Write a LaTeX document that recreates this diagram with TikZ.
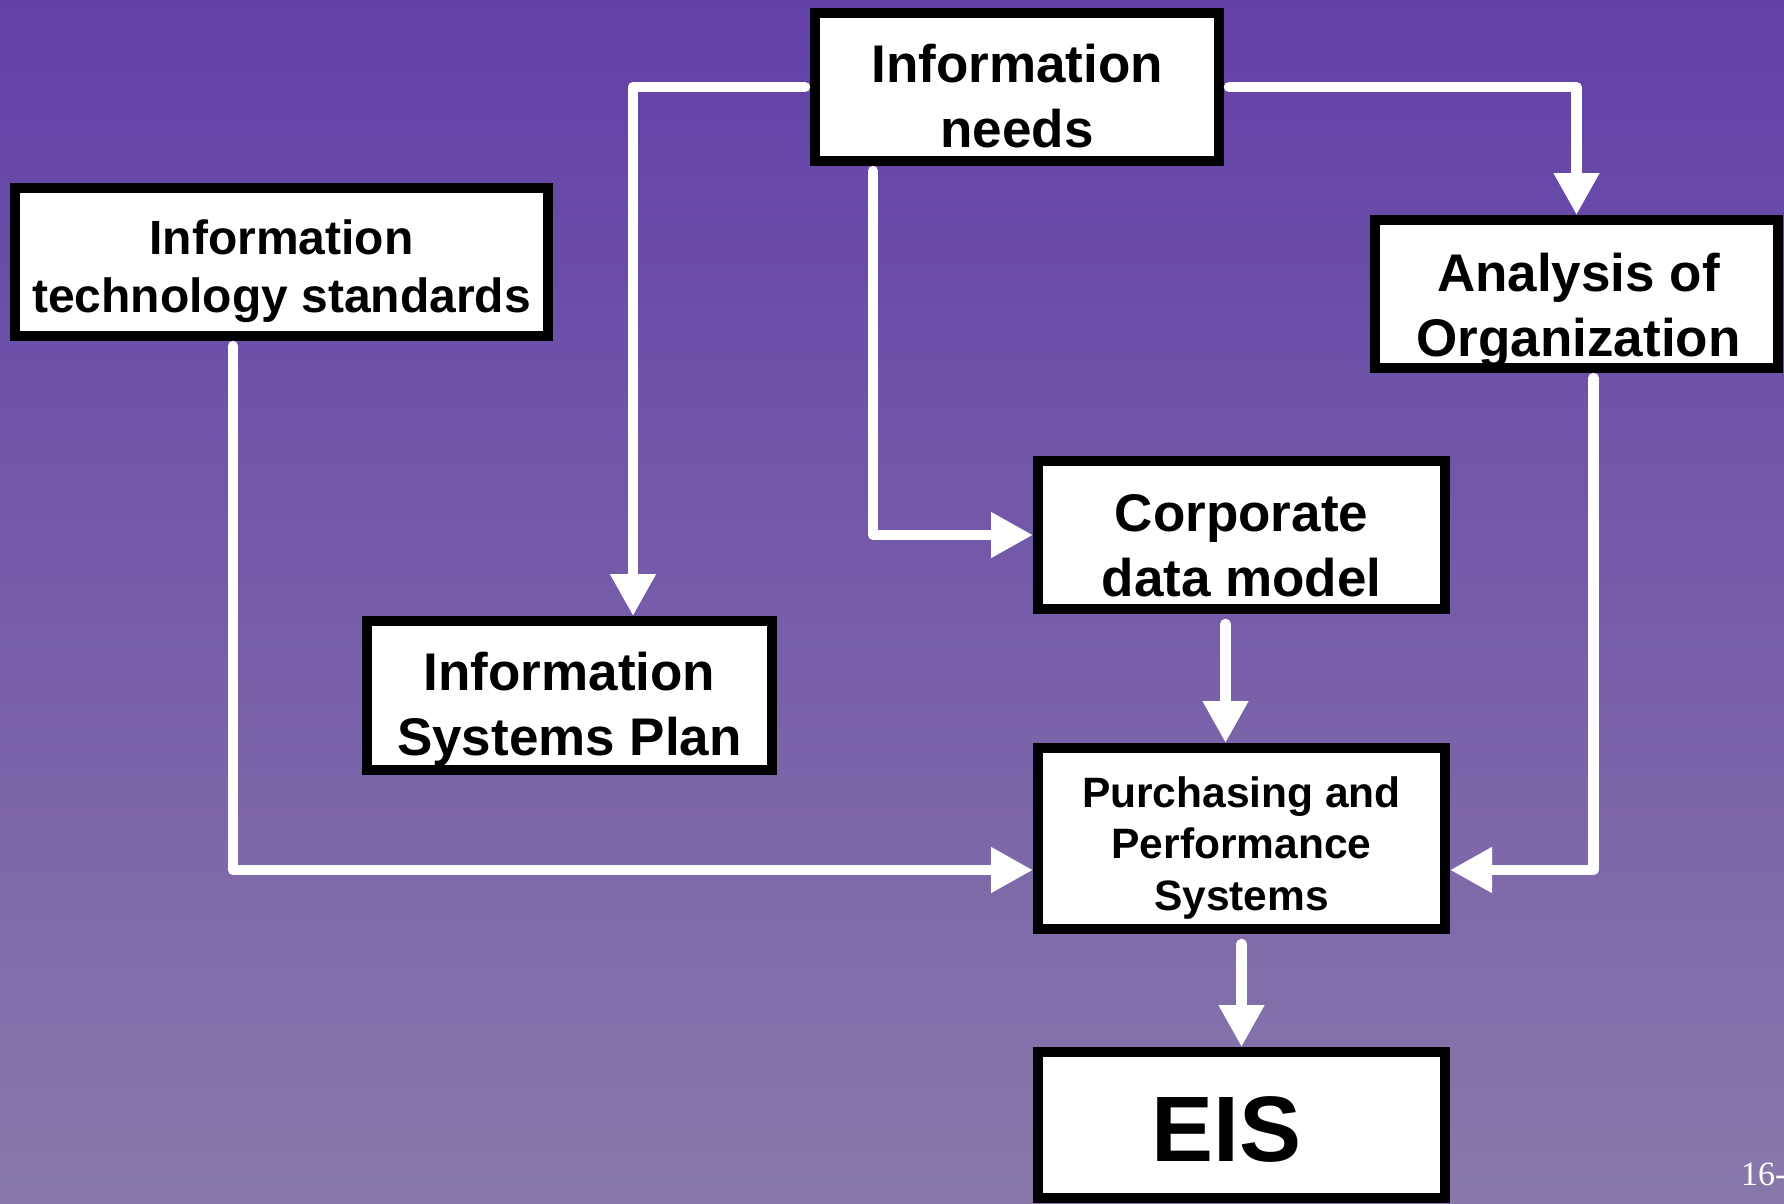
\documentclass[tikz,border=0pt]{standalone}
\usepackage{fontspec}
\setmainfont{Liberation Sans}
\newfontfamily\pagefont{Liberation Serif}
\usetikzlibrary{arrows.meta,calc}

\definecolor{bgtop}{RGB}{98,64,168}
\definecolor{bgbottom}{RGB}{136,121,170}

\tikzset{
  box/.style={draw=black, fill=white, line width=10pt, inner sep=0pt,
    minimum width=#1},
  boxtext/.style={align=center, inner sep=0pt, text depth=0pt, text=black},
  bigtext/.style={boxtext, font=\bfseries\fontsize{53}{65}\selectfont},
  midtext/.style={boxtext, font=\bfseries\fontsize{48}{58}\selectfont},
  smalltext/.style={boxtext, font=\bfseries\fontsize{42.5}{51.5}\selectfont},
  hugetext/.style={boxtext, font=\bfseries\fontsize{93}{110}\selectfont},
  conn/.style={draw=white, line width=10.5pt, line cap=round, line join=round,
    -{Triangle[length=42pt,width=43pt]}, shorten <=5pt},
}

\begin{document}
\begin{tikzpicture}[x=1pt,y=-1pt]
  % slide background
  \useasboundingbox (0,0) rectangle (1784,1203);
  \shade[top color=bgtop, bottom color=bgbottom] (0,0) rectangle (1784,1203);

  % boxes (sizes given as outer edge minus line width)
  \node[box=404pt, minimum height=148pt] (needs)    at (1017,87)     {};
  \node[box=533pt, minimum height=148pt] (its)      at (281.5,262)   {};
  \node[box=403pt, minimum height=148pt] (analysis) at (1576.5,294)  {};
  \node[box=407pt, minimum height=148pt] (corp)     at (1241.5,535)  {};
  \node[box=405pt, minimum height=149pt] (isp)      at (569.5,695.5) {};
  \node[box=407pt, minimum height=181pt] (purch)    at (1241.5,838.5){};
  \node[box=407pt, minimum height=146pt] (eis)      at (1241.5,1125) {};

  % box labels
  \node[bigtext]   (needs-t)    at ($(needs)+(0,9)$)      {Information\\needs};
  \node[midtext]   (its-t)      at ($(its)+(0,4)$)        {Information\\technology standards};
  \node[bigtext]   (analysis-t) at ($(analysis)+(2,10.5)$) {Analysis of\\Organization};
  \node[bigtext]   (corp-t)     at ($(corp)+(0,10)$)      {Corporate\\data model};
  \node[bigtext]   (isp-t)      at ($(isp)+(0,8.5)$)      {Information\\Systems Plan};
  \node[smalltext] (purch-t)    at ($(purch)+(0,5)$)      {Purchasing and\\Performance\\Systems};
  \node[hugetext]  (eis-t)      at ($(eis)+(-15,4)$)      {EIS};

  % connectors
  \draw[conn] (needs.west) -| ($(isp.north)+(63.5,0)$);
  \draw[conn] (needs.east) -| (analysis.north);
  \draw[conn] ($(needs.south)+(-144,0)$) |- (corp.west);
  \draw[conn] ($(its.south)+(-48.5,0)$) |- ($(purch.west)+(0,31.5)$);
  \draw[conn] ($(analysis.south)+(17,0)$) |- ($(purch.east)+(0,31.5)$);
  \draw[conn, shorten <=10pt] ($(corp.south)+(-16,0)$) -- ($(purch.north)+(-16,0)$);
  \draw[conn, shorten <=10pt] (purch.south) -- (eis.north);

  % page number
  \node[anchor=base west, inner sep=0pt, text=white,
    font=\pagefont\fontsize{34}{40}\selectfont] (pageno) at (1741,1185) {16-};
\end{tikzpicture}
\end{document}
